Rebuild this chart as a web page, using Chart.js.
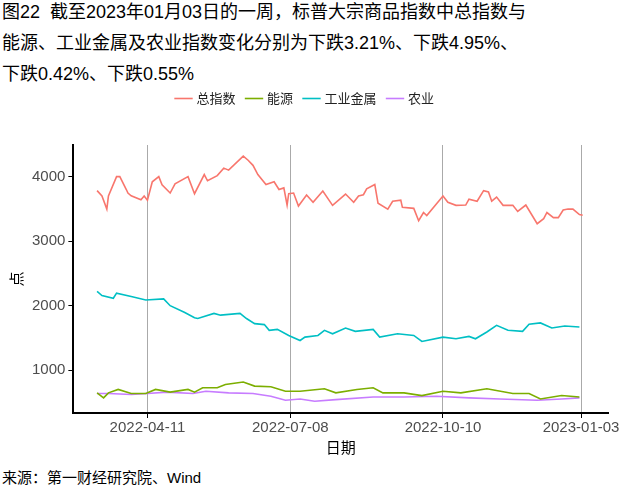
<!DOCTYPE html>
<html lang="zh">
<head>
<meta charset="UTF-8">
<title>标普大宗商品指数</title>
<script src="https://cdn.jsdelivr.net/npm/chart.js"></script>
<style>
  body { margin: 0; background: #fff; font-family: "Liberation Sans", "Noto Sans CJK SC", sans-serif; }
  .title { position: absolute; left: 2px; top: -3px; font-size: 18px; line-height: 31px; color: #000; white-space: nowrap; }
  .source { position: absolute; left: 2px; top: 466px; font-size: 15px; color: #000; }
  .chart-container { position: absolute; left: 0; top: 80px; width: 640px; height: 376px; }
</style>
</head>
<body>
<div class="title">图22&nbsp;&nbsp;截至2023年01月03日的一周，标普大宗商品指数中总指数与<br>能源、工业金属及农业指数变化分别为下跌3.21%、下跌4.95%、<br>下跌0.42%、下跌0.55%</div>
<div class="chart-container"><canvas id="c"></canvas></div>
<div class="source">来源：第一财经研究院、Wind</div>
<script>
// x values are days since 2022-01-01
const seriesNames = ['总指数', '能源', '工业金属', '农业'];
const tickDays = [100, 188, 282, 367];
const tickLabels = ['2022-04-11', '2022-07-08', '2022-10-10', '2023-01-03'];
const yTicks = [1000, 2000, 3000, 4000];

const totalDays = [69, 72, 75, 76, 81, 83, 87, 88, 90, 96, 98, 100, 103, 107, 109, 114, 117, 125, 129, 135, 137, 143, 147, 150, 159, 162, 165, 168, 173, 178, 181, 184, 186, 187, 190, 193, 198, 202, 208, 214, 222, 227, 230, 233, 235, 240, 242, 248, 251, 256, 257, 264, 267, 270, 272, 282, 285, 290, 296, 298, 303, 307, 310, 312, 315, 319, 325, 328, 333, 340, 344, 346, 350, 353, 356, 359, 362, 366, 368];
const totalVals = [3783, 3700, 3497, 3700, 4000, 4000, 3800, 3746, 3703, 3640, 3700, 3635, 3920, 4000, 3873, 3746, 3889, 4000, 3735, 4032, 3936, 4016, 4132, 4100, 4317, 4254, 4175, 4032, 3878, 3920, 3800, 3825, 3560, 3735, 3746, 3545, 3714, 3603, 3778, 3555, 3730, 3603, 3700, 3720, 3810, 3878, 3587, 3497, 3619, 3635, 3524, 3508, 3317, 3444, 3397, 3700, 3603, 3555, 3560, 3651, 3619, 3783, 3762, 3619, 3683, 3555, 3555, 3460, 3560, 3270, 3349, 3444, 3365, 3365, 3482, 3497, 3497, 3413, 3400];

const metalDays = [69, 72, 79, 81, 90, 99, 110, 114, 123, 129, 131, 141, 145, 157, 161, 166, 172, 175, 180, 187, 194, 197, 205, 209, 214, 222, 228, 239, 243, 254, 264, 269, 282, 290, 298, 302, 309, 315, 322, 331, 335, 342, 349, 357, 366];
const metalVals = [2220, 2157, 2115, 2194, 2141, 2089, 2105, 2000, 1895, 1812, 1801, 1880, 1853, 1880, 1801, 1722, 1707, 1618, 1633, 1539, 1461, 1513, 1539, 1618, 1565, 1654, 1602, 1633, 1513, 1565, 1539, 1445, 1513, 1487, 1524, 1487, 1592, 1696, 1618, 1602, 1712, 1733, 1654, 1686, 1670];

const energyDays = [69, 73, 76, 82, 90, 99, 105, 114, 125, 129, 134, 143, 148, 159, 166, 176, 185, 194, 209, 216, 229, 239, 245, 258, 269, 282, 293, 309, 325, 335, 342, 355, 366];
const energyVals = [649, 571, 649, 702, 639, 639, 702, 660, 702, 660, 728, 728, 780, 817, 754, 743, 675, 675, 712, 649, 702, 728, 649, 649, 607, 675, 649, 712, 639, 639, 555, 607, 586];

const agriDays = [69, 76, 90, 100, 112, 128, 136, 150, 165, 176, 185, 194, 203, 216, 239, 258, 278, 298, 317, 340, 355, 366];
const agriVals = [639, 639, 623, 639, 660, 639, 675, 649, 639, 597, 534, 555, 518, 544, 586, 586, 597, 571, 555, 534, 555, 571];

const colors = ['#F8766D', '#7CAE00', '#00BFC4', '#C77CFF'];
const pts = (xs, ys) => xs.map((x, i) => ({ x: x, y: ys[i] }));
const allData = [pts(totalDays, totalVals), pts(energyDays, energyVals), pts(metalDays, metalVals), pts(agriDays, agriVals)];
const fontLatin = 'Liberation Sans, Noto Sans CJK SC';

new Chart(document.getElementById('c'), {
  type: 'line',
  data: {
    datasets: seriesNames.map((name, i) => ({
      label: name,
      data: allData[i],
      borderColor: colors[i],
      backgroundColor: colors[i],
      borderWidth: 1.6,
      pointRadius: 0,
      tension: 0
    }))
  },
  options: {
    responsive: true,
    maintainAspectRatio: false,
    animation: false,
    layout: { padding: { left: 3, right: 32, top: 0, bottom: 0 } },
    plugins: {
      legend: {
        position: 'top',
        labels: {
          usePointStyle: true,
          pointStyle: 'line',
          boxWidth: 16,
          padding: 12,
          color: '#222',
          font: { family: 'Noto Sans CJK SC', size: 13 }
        }
      },
      tooltip: { enabled: false }
    },
    scales: {
      x: {
        type: 'linear',
        min: 54.4,
        max: 383.6,
        afterBuildTicks: (axis) => { axis.ticks = tickDays.map(v => ({ value: v })); },
        ticks: {
          callback: (v) => tickLabels[tickDays.indexOf(v)],
          color: '#4d4d4d',
          font: { family: fontLatin, size: 15 },
          maxRotation: 0,
          padding: 1
        },
        grid: { color: '#aaaaaa', lineWidth: 1, drawTicks: true, tickLength: 5, tickColor: '#000' },
        border: { color: '#000', width: 2 },
        title: { display: true, text: '日期', color: '#000', font: { family: 'Noto Sans CJK SC', size: 15 }, padding: { top: 0, bottom: 0 } }
      },
      y: {
        min: 337,
        max: 4490,
        afterBuildTicks: (axis) => { axis.ticks = yTicks.map(v => ({ value: v })); },
        ticks: {
          callback: (v) => String(v),
          color: '#4d4d4d',
          font: { family: fontLatin, size: 15 },
          padding: 3
        },
        grid: { drawOnChartArea: false, tickLength: 5, tickColor: '#000' },
        border: { color: '#000', width: 2 },
        title: { display: true, text: '点', color: '#000', font: { family: 'Noto Sans CJK SC', size: 15 } }
      }
    }
  },
  plugins: [{
    id: 'legendGap',
    beforeInit(chart) {
      const orig = chart.legend.fit;
      chart.legend.fit = function () { orig.bind(chart.legend)(); this.height += 30; };
    }
  }]
});
</script>
</body>
</html>
